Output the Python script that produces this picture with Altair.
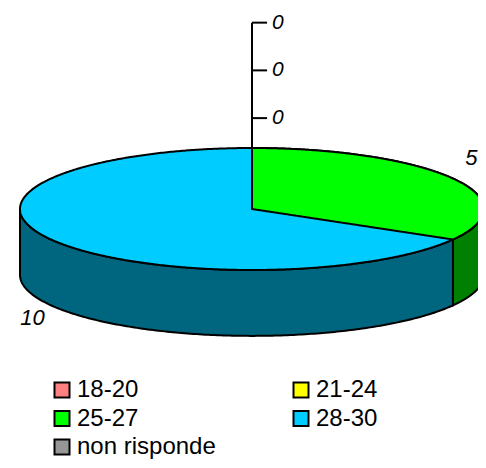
import altair as alt
import pandas as pd
import numpy as np

# ---- data ----
categories = ["18-20", "21-24", "25-27", "28-30", "non risponde"]
values = [0, 0, 5, 10, 0]
top_colors = ["#FF8080", "#FFFF00", "#00FF00", "#00CCFF", "#969696"]
side_colors = ["#804040", "#808000", "#008000", "#00667F", "#4B4B4B"]

# ---- geometry parameters (styling) ----
DEPTH = 1.08        # wall depth in units of the ellipse minor radius
LABEL_R = 1.092     # radius at which value labels sit
FONT = "Liberation Sans"
SW = 2

total = float(sum(values))
slices = []
start = 90.0
for c, v, tc, sc in zip(categories, values, top_colors, side_colors):
    sweep = 360.0 * v / total
    slices.append(dict(cat=c, v=v, a0=start, a1=start - sweep, top=tc, side=sc))
    start -= sweep

# ---- walls (visible front half: angles in [-180, 0]) ----
wall_layers = []
for s in slices:
    if s["v"] == 0:
        continue
    lo, hi = max(s["a1"], -180.0), min(s["a0"], 0.0)
    if hi <= lo:
        continue
    th = np.radians(np.linspace(lo, hi, 200))
    df = pd.DataFrame({"x": np.cos(th), "y": np.sin(th), "y2": np.sin(th) - DEPTH,
                       "side": s["side"]})
    wall_layers.append(df)

xs = alt.Scale(domain=[-1, 1], range=[12, 476], nice=False, zero=False)
ys = alt.Scale(domain=[-1, 1], range=[262, 140], nice=False, zero=False)

color_scale = alt.Scale(domain=categories, range=top_colors)
legend = alt.Legend(title=None, orient="none", legendX=42, legendY=370, columns=2,
                    direction="horizontal",
                    columnPadding=73, rowPadding=4.5, symbolType="square",
                    symbolSize=225, symbolStrokeColor="black", symbolStrokeWidth=2,
                    symbolOpacity=1, labelFont=FONT, labelFontSize=24, labelOffset=3,
                    labelColor="black", padding=0, labelLimit=300)

layers = []
for df in wall_layers:
    layers.append(
        alt.Chart(df).mark_area(stroke="black", strokeWidth=SW, opacity=1, interpolate="linear").encode(
            x=alt.X("x:Q", scale=xs, axis=None),
            y=alt.Y("y:Q", scale=ys, axis=None),
            y2="y2:Q",
            fill=alt.Fill("side:N", scale=None),
        )
    )

# ---- top face: largest slice as full ellipse base, others as wedges on top ----
big = max(slices, key=lambda s: s["v"])
th = np.radians(np.linspace(180, 0, 361))
base = pd.DataFrame({"x": np.cos(th), "y": np.sin(th), "y2": -np.sin(th), "cat": big["cat"]})
layers.append(
    alt.Chart(base).mark_area(stroke="black", strokeWidth=SW, opacity=1).encode(
        x=alt.X("x:Q", scale=xs, axis=None),
        y=alt.Y("y:Q", scale=ys, axis=None),
        y2="y2:Q",
        color=alt.Color("cat:N", scale=color_scale, legend=legend, sort=categories),
    )
)
for s in slices:
    if s["v"] == 0 or s is big:
        continue
    th = np.radians(np.linspace(90, 0, 361))
    x = np.cos(th)
    y = np.sin(th)
    y2 = np.maximum(x * np.tan(np.radians(s["a1"])), -np.sin(th))
    wdf = pd.DataFrame({"x": x, "y": y, "y2": y2, "cat": s["cat"]})
    layers.append(
        alt.Chart(wdf).mark_area(stroke="black", strokeWidth=SW, opacity=1).encode(
            x=alt.X("x:Q", scale=xs, axis=None),
            y=alt.Y("y:Q", scale=ys, axis=None),
            y2="y2:Q",
            color=alt.Color("cat:N", scale=color_scale, legend=legend, sort=categories),
        )
    )

# ---- value labels for non-zero slices ----
lab_rows = []
for s in slices:
    if s["v"] == 0:
        continue
    m = np.radians((s["a0"] + s["a1"]) / 2.0)
    lx = LABEL_R * np.cos(m)
    ly = LABEL_R * np.sin(m)
    if np.sin(m) < 0:
        ly -= DEPTH
        base_line = "top"
    else:
        ly += 0.1
        base_line = "bottom"
    lab_rows.append(dict(x=lx, y=ly, txt=str(s["v"]), bl=base_line))
lab = pd.DataFrame(lab_rows)
for bl in ["top", "bottom"]:
    sub = lab[lab.bl == bl]
    if len(sub):
        layers.append(
            alt.Chart(sub).mark_text(font=FONT, fontSize=22, fontStyle="italic", color="black",
                                     align="center", baseline=bl).encode(
                x=alt.X("x:Q", scale=xs, axis=None),
                y=alt.Y("y:Q", scale=ys, axis=None),
                text="txt:N",
            )
        )

# ---- zero-value slices: stacked labels with leader lines above the pie top ----
zeros = [s for s in slices if s["v"] == 0]
zy = [1.49 + 0.7825 * k for k in range(len(zeros))]
zdf = pd.DataFrame({"x": [0.0] * len(zeros), "x2": [0.065] * len(zeros), "y": zy,
                    "tx": [0.086] * len(zeros), "txt": [str(s["v"]) for s in zeros]})
vdf = pd.DataFrame({"x": [0.0], "y": [0.0], "y2": [max(zy)]})
layers.append(
    alt.Chart(vdf).mark_rule(color="black", strokeWidth=SW).encode(
        x=alt.X("x:Q", scale=xs, axis=None),
        y=alt.Y("y:Q", scale=ys, axis=None),
        y2="y2:Q",
    )
)
layers.append(
    alt.Chart(zdf).mark_rule(color="black", strokeWidth=SW).encode(
        x=alt.X("x:Q", scale=xs, axis=None),
        x2="x2:Q",
        y=alt.Y("y:Q", scale=ys, axis=None),
    )
)
layers.append(
    alt.Chart(zdf).mark_text(font=FONT, fontSize=21, fontStyle="italic", color="black",
                             align="left", baseline="middle").encode(
        x=alt.X("tx:Q", scale=xs, axis=None),
        y=alt.Y("y:Q", scale=ys, axis=None),
        text="txt:N",
    )
)

chart = alt.layer(*layers).properties(
    width=470, height=452, padding=0, autosize=alt.AutoSizeParams(type="none")
).configure_view(stroke=None)

chart.save("out.html", embed_options={"renderer": "svg", "actions": False})
